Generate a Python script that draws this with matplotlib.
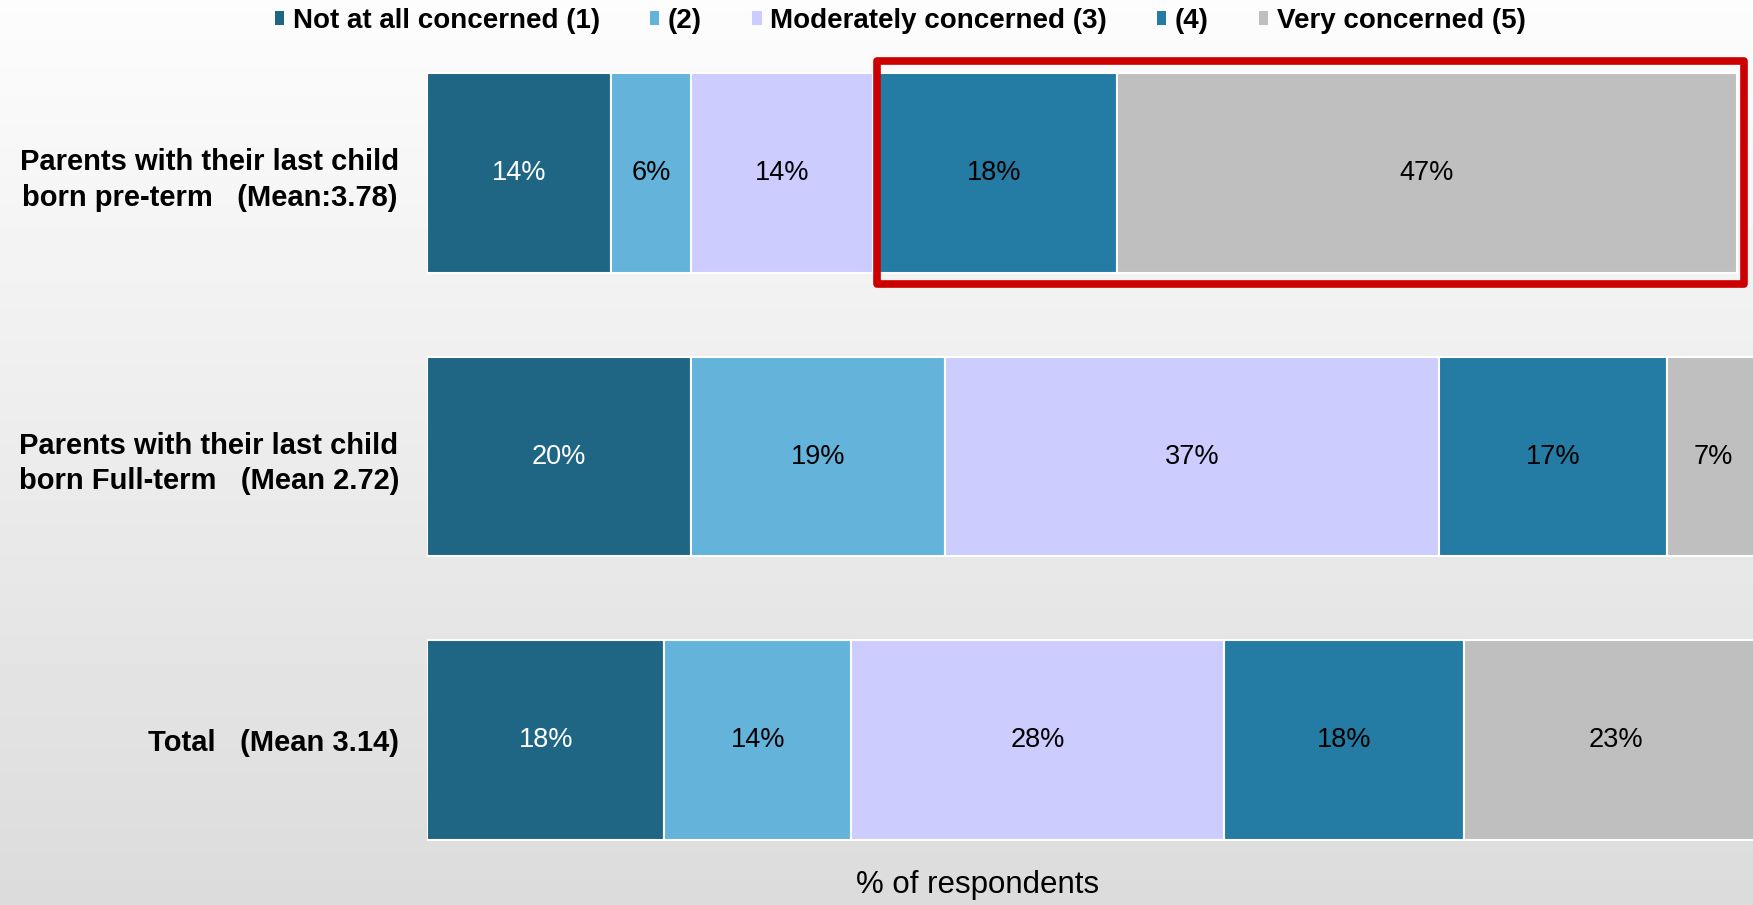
import numpy as np
import matplotlib.pyplot as plt
from matplotlib.patches import Patch, Rectangle

plt.rcParams['font.family'] = ['Liberation Sans', 'DejaVu Sans']

# data (shares of respondents, %)
groups = ["Parents with their last child\nborn pre-term   (Mean:3.78)",
          "Parents with their last child\nborn Full-term   (Mean 2.72)",
          "Total   (Mean 3.14)"]
levels = ["Not at all concerned (1)", "(2)", "Moderately concerned (3)", "(4)", "Very concerned (5)"]
not_at_all = [13.9, 19.9, 17.9]
level_2 = [6.0, 19.2, 14.1]
moderate = [13.7, 37.2, 28.1]
level_4 = [18.4, 17.2, 18.1]
very = [46.8, 7.0, 23.0]

colors = ['#1F6685', '#63B3DA', '#CCCCFF', '#247BA3', '#BFBFBF']
text_colors = ['white', 'black', 'black', 'black', 'black']

fig = plt.figure(figsize=(17.53, 9.05), dpi=100)

# light grey vertical gradient behind everything
bg = fig.add_axes([0, 0, 1, 1], zorder=-10)
grad = np.linspace(0.86, 0.99, 256).reshape(-1, 1)
bg.imshow(grad, aspect='auto', cmap='gray', vmin=0, vmax=1, extent=[0, 1, 0, 1], origin='lower')
bg.axis('off')

ax = fig.add_axes([427 / 1753, 23 / 905, 1 - 427 / 1753, 851 / 905])
ax.patch.set_alpha(0)

series = [not_at_all, level_2, moderate, level_4, very]
y = np.arange(len(groups))
left = np.zeros(len(groups))
bar_h = 0.705
for vals, col, tcol, name in zip(series, colors, text_colors, levels):
    bars = ax.barh(y, vals, left=left, height=bar_h, color=col, edgecolor='white', linewidth=1.5, label=name)
    for b, v in zip(bars, vals):
        ax.text(b.get_x() + b.get_width() / 2, b.get_y() + b.get_height() / 2, f'{v:.0f}%',
                ha='center', va='center', color=tcol, fontsize=19.5)
    left = left + np.array(vals)

ax.set_xlim(0, 100)
ax.set_ylim(2.5, -0.5)
ax.set_yticks(y)
ax.set_yticklabels(groups, fontsize=21, fontweight='bold', multialignment='center', linespacing=1.35)
ax.tick_params(axis='y', length=0, pad=20)
ax.set_xticks([])
for s in ax.spines.values():
    s.set_visible(False)

# red highlight around levels 4 and 5 of the pre-term row
x0 = not_at_all[0] + level_2[0] + moderate[0]
x1 = x0 + level_4[0] + very[0]
ax.add_patch(Rectangle((x0 + 0.3, -bar_h / 2 - 0.04), x1 - x0 + 0.2, bar_h + 0.08,
                       fill=False, edgecolor='#CC0000', linewidth=5.5, joinstyle='round', clip_on=False, zorder=5))

fig.text(978 / 1753, 1 - 885 / 905, '% of respondents', ha='center', va='center', fontsize=22.5)

handles = [Patch(facecolor=c, edgecolor='none') for c in colors]
fig.legend(handles, levels, loc='center', bbox_to_anchor=(900 / 1753, 1 - 21 / 905), ncol=5, frameon=False,
           prop={'size': 20, 'weight': 'bold'}, handlelength=0.35, handleheight=0.35,
           handletextpad=0.3, columnspacing=1.8)

fig.savefig('out.png', dpi=100)
